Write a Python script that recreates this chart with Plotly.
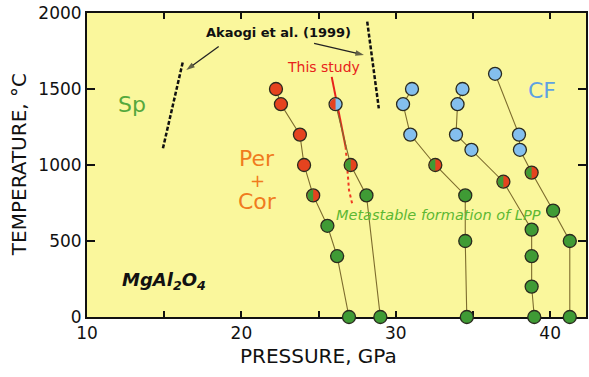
import plotly.graph_objects as go

# Run traverses of MgAl2O4: pressure (GPa), temperature (°C) and phase found.
# Phase codes: R = Per + Cor, B = CF, G = LPP; two letters = two-phase run
# (left half / right half of the symbol).
p1 = [22.24, 22.56, 23.79, 24.06, 24.65, 25.57, 26.2, 26.97]
t1 = [1500, 1400, 1200, 1000, 800, 600, 400, 0]
ph1 = ["R", "R", "R", "R", "GR", "G", "G", "G"]

p2 = [26.1, 27.08, 28.1, 29.0]
t2 = [1400, 1000, 800, 0]
ph2 = ["RB", "GR", "G", "G"]

p3 = [31.05, 30.47, 30.94, 32.56, 34.5, 34.5, 34.6]
t3 = [1500, 1400, 1200, 1000, 800, 500, 0]
ph3 = ["B", "B", "B", "GR", "G", "G", "G"]

p4 = [34.32, 34.0, 33.9, 34.9, 36.97, 38.8, 38.8, 38.8, 38.97]
t4 = [1500, 1400, 1200, 1100, 890, 575, 400, 200, 0]
ph4 = ["B", "B", "B", "B", "GR", "G", "G", "G", "G"]

p5 = [36.43, 37.98, 38.04, 38.8, 40.19, 41.27, 41.27]
t5 = [1600, 1200, 1100, 950, 700, 500, 0]
ph5 = ["B", "B", "B", "GR", "G", "G", "G"]

# Phase boundaries
study_p = [25.85, 26.75]
study_t = [1580, 1120]
metastable_p = [26.75, 26.97, 27.18]
metastable_t = [1120, 835, 743]
akaogi_lo_p = [14.92, 16.21]
akaogi_lo_t = [1110, 1680]
akaogi_hi_p = [28.15, 28.9]
akaogi_hi_t = [1943, 1373]

# Pointers from the Akaogi et al. label (tail -> tip)
arrow1_p = [18.53, 16.43]
arrow1_t = [1779, 1625]
arrow2_p = [24.71, 27.94]
arrow2_t = [1800, 1724]

# Axis ticks
x_tickvals = [10, 20, 30, 40]
x_ticktext = ["10", "20", "30", "40"]
y_tickvals = [0, 500, 1000, 1500, 2000]
y_ticktext = ["0", "500", "1000", "1500", "2000"]

FONT = "DejaVu Sans"
PHASE_COLOR = {"R": "#E5431F", "B": "#84BFEE", "G": "#3F9B35"}
EDGE = "#2A2A1E"
LINK = "#7D6C2E"
MSIZE = 13

fig = go.Figure()

series = [(p1, t1, ph1), (p2, t2, ph2), (p3, t3, ph3), (p4, t4, ph4), (p5, t5, ph5)]

# boundary lines
for bx, by in [(akaogi_lo_p, akaogi_lo_t), (akaogi_hi_p, akaogi_hi_t)]:
    fig.add_trace(go.Scatter(x=bx, y=by, mode="lines",
                             line=dict(color="#111111", width=2.5, dash="4px,2px"),
                             showlegend=False, hoverinfo="skip"))
fig.add_trace(go.Scatter(x=study_p, y=study_t, mode="lines",
                         line=dict(color="#E8221A", width=2),
                         showlegend=False, hoverinfo="skip"))
fig.add_trace(go.Scatter(x=metastable_p, y=metastable_t, mode="lines",
                         line=dict(color="#F03A22", width=2, dash="3px,3px"),
                         showlegend=False, hoverinfo="skip"))

# pointer arrows
for ax_, ay_ in [(arrow1_p, arrow1_t), (arrow2_p, arrow2_t)]:
    fig.add_trace(go.Scatter(x=ax_, y=ay_, mode="lines+markers",
                             line=dict(color="#222222", width=1.3),
                             marker=dict(symbol="arrow", angleref="previous",
                                         size=[0, 9], color="#222222",
                                         line=dict(width=0)),
                             showlegend=False, hoverinfo="skip"))

shapes = []
r = MSIZE / 2 - 0.8
k = 0.5523 * r
half_left = (f"M 0,{-r} C {-k},{-r} {-r},{-k} {-r},0 "
             f"C {-r},{k} {-k},{r} 0,{r} Z")

for px, tx, ph in series:
    fig.add_trace(go.Scatter(x=px, y=tx, mode="lines",
                             line=dict(color=LINK, width=1.1),
                             showlegend=False, hoverinfo="skip", cliponaxis=False))
for px, tx, ph in series:
    right = [PHASE_COLOR[c[-1]] for c in ph]
    fig.add_trace(go.Scatter(x=px, y=tx, mode="markers",
                             marker=dict(size=MSIZE, color=right,
                                         line=dict(color=EDGE, width=1.3)),
                             showlegend=False, cliponaxis=False))
    for xv, yv, c in zip(px, tx, ph):
        if len(c) == 2:
            shapes.append(dict(type="path", xref="x", yref="y",
                               xsizemode="pixel", ysizemode="pixel",
                               xanchor=xv, yanchor=yv, path=half_left,
                               fillcolor=PHASE_COLOR[c[0]], line=dict(width=0),
                               layer="above"))

ann = []


def label(x, y, text, color, size, **kw):
    ann.append(dict(x=x, y=y, xref="x", yref="y", text=text, showarrow=False,
                    font=dict(family=FONT, size=size, color=color),
                    xanchor="center", yanchor="middle", **kw))


label(12.9, 1395, "Sp", "#55A83C", 22)
label(21.03, 1046, "Per", "#F07B1E", 22)
label(21.03, 897, "+", "#F07B1E", 18)
label(21.03, 763, "Cor", "#F07B1E", 22)
label(39.46, 1493, "CF", "#5FA2E2", 22)
label(32.77, 671, "<i>Metastable formation of LPP</i>", "#5DB833", 14.5)
label(22.4, 1870, "<b>Akaogi et al. (1999)</b>", "#111111", 13)
label(25.32, 1647, "This study", "#E8221A", 14)
label(14.97, 237, "<b><i>MgAl<sub>2</sub>O<sub>4</sub></i></b>", "#111111", 18)

# axis titles
ann.append(dict(x=25, y=-0.128, xref="x", yref="paper", text="PRESSURE, GPa",
                showarrow=False, font=dict(family=FONT, size=20, color="#111111"),
                xanchor="center", yanchor="middle"))
ann.append(dict(x=-0.136, y=0.5, xref="paper", yref="paper",
                text="TEMPERATURE, °C", textangle=-90, showarrow=False,
                font=dict(family=FONT, size=20, color="#111111"),
                xanchor="center", yanchor="middle"))

fig.update_layout(
    width=589, height=377,
    margin=dict(l=87, r=1, t=13, b=60),
    paper_bgcolor="white", plot_bgcolor="#FAF79C",
    showlegend=False,
    shapes=shapes, annotations=ann,
    font=dict(family=FONT, color="#111111"),
)
axis_common = dict(showgrid=False, zeroline=False, showline=True,
                   linecolor="#111111", linewidth=2, mirror="ticks",
                   ticks="inside", tickcolor="#111111", tickwidth=1.5,
                   layer="below traces",
                   tickfont=dict(family=FONT, size=17, color="#111111"))
fig.update_xaxes(range=[10, 42.32], tickvals=x_tickvals, ticktext=x_ticktext,
                 ticklen=6,
                 minor=dict(ticks="inside", dtick=5, ticklen=6, tickwidth=1.5,
                            tickcolor="#111111", showgrid=False),
                 **axis_common)
fig.update_yaxes(range=[0, 2000], tickvals=y_tickvals, ticktext=y_ticktext,
                 ticklen=8, **axis_common)

fig.write_html("out.html")
